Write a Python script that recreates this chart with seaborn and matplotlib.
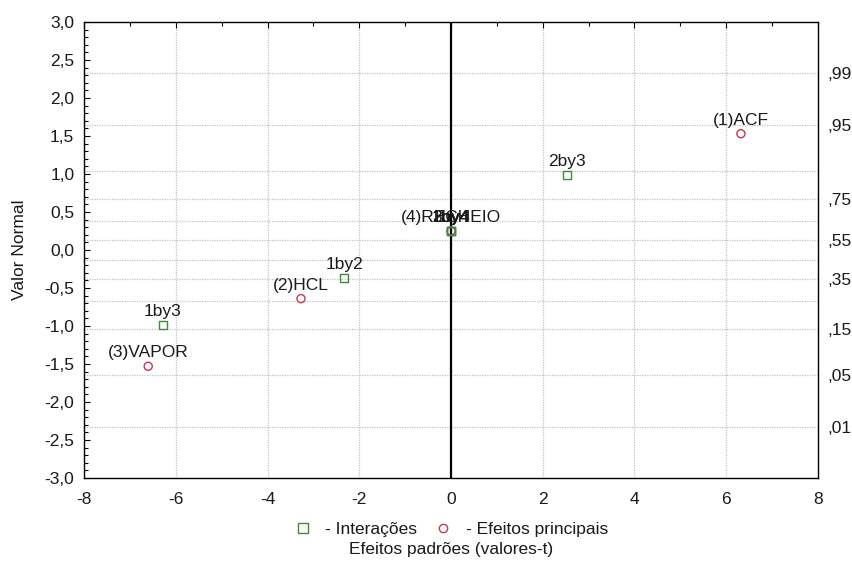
import matplotlib
matplotlib.use("Agg")
import matplotlib.pyplot as plt
from matplotlib.lines import Line2D
from matplotlib.ticker import MultipleLocator
from statistics import NormalDist
import pandas as pd
import seaborn as sns

# Effects: standardized t-values and their normal scores
labels = ["(1)ACF", "(2)HCL", "(3)VAPOR", "(4)RECHEIO",
          "1by2", "1by3", "1by4", "2by3", "2by4", "3by4"]
t_values = [6.32, -3.27, -6.60, 0.0, -2.33, -6.28, 0.0, 2.52, 0.0, 0.0]
normal_values = [1.53, -0.64, -1.53, 0.25, -0.37, -0.99, 0.25, 0.99, 0.25, 0.25]
kinds = ["Efeitos principais", "Efeitos principais", "Efeitos principais",
         "Efeitos principais", "Interações", "Interações", "Interações",
         "Interações", "Interações", "Interações"]

# Axis ticks
x_ticks = [-8, -6, -4, -2, 0, 2, 4, 6, 8]
x_tick_labels = ["-8", "-6", "-4", "-2", "0", "2", "4", "6", "8"]
y_ticks = [-3.0, -2.5, -2.0, -1.5, -1.0, -0.5, 0.0, 0.5, 1.0, 1.5, 2.0, 2.5, 3.0]
y_tick_labels = ["-3,0", "-2,5", "-2,0", "-1,5", "-1,0", "-0,5", "0,0",
                 "0,5", "1,0", "1,5", "2,0", "2,5", "3,0"]

# Cumulative probability scale (right axis)
grid_probs = [0.01, 0.05, 0.15, 0.25, 0.35, 0.45, 0.55, 0.65, 0.75, 0.85, 0.95, 0.99]
label_probs = [0.01, 0.05, 0.15, 0.35, 0.55, 0.75, 0.95, 0.99]
prob_labels = [",01", ",05", ",15", ",35", ",55", ",75", ",95", ",99"]

df = pd.DataFrame({"label": labels, "t": t_values, "z": normal_values, "tipo": kinds})

sns.set_style("white")
plt.rcParams["font.family"] = ["Liberation Sans", "DejaVu Sans"]
plt.rcParams["font.size"] = 12.5

green = "#3c8c3c"
red = "#c8374d"
grid_col = "#c2c2c2"
styles = {"Interações": ("s", green), "Efeitos principais": ("o", red)}

fig = plt.figure(figsize=(8.53, 5.61), dpi=100)
ax = fig.add_axes([84 / 853, 1 - 478 / 561, 734 / 853, 456 / 561])

ax.set_xlim(-8, 8)
ax.set_ylim(-3, 3)

# dotted grid: x at major ticks, y at probability levels
nd = NormalDist()
for p in grid_probs:
    ax.axhline(nd.inv_cdf(p), color=grid_col, ls=(0, (1, 1)), lw=0.9, zorder=0.5)
for xv in x_ticks[1:-1]:
    ax.axvline(xv, color=grid_col, ls=(0, (1, 1)), lw=0.9, zorder=0.5)
ax.axvline(0, color="black", lw=1.6, zorder=1.5)

for kind in ["Efeitos principais", "Interações"]:
    marker, col = styles[kind]
    sub = df[df["tipo"] == kind]
    sns.scatterplot(data=sub, x="t", y="z", marker=marker, s=34,
                    facecolors="none", edgecolor=col, linewidth=1.0,
                    ax=ax, zorder=3, legend=False)

for _, row in df.iterrows():
    ax.annotate(row["label"], (row["t"], row["z"]), xytext=(0, 6.5),
                textcoords="offset points", ha="center", va="baseline",
                fontsize=12.5, color="#1a1a1a", zorder=4)

ax.set_xticks(x_ticks, x_tick_labels)
ax.set_yticks(y_ticks, y_tick_labels)
ax.xaxis.set_minor_locator(MultipleLocator(1))
ax.yaxis.set_minor_locator(MultipleLocator(0.1))
ax.tick_params(which="both", direction="in", top=True, right=True,
               color="black", width=0.8, labelcolor="#1a1a1a")
ax.tick_params(which="major", length=4)
ax.tick_params(which="minor", length=3)
ax.tick_params(axis="x", pad=10)
ax.tick_params(axis="y", pad=7)
for sp in ax.spines.values():
    sp.set_color("black")
    sp.set_linewidth(1.0)

ax.set_xlabel("Efeitos padrões (valores-t)", fontsize=12.5, color="#1a1a1a")
ax.set_ylabel("Valor Normal", fontsize=12.5, color="#1a1a1a")
ax.xaxis.set_label_coords(0.5, -0.14)
ax.yaxis.set_label_coords(-0.078, 0.5)

# right-hand probability labels
ax2 = ax.twinx()
ax2.set_ylim(ax.get_ylim())
ax2.set_yticks([nd.inv_cdf(p) for p in label_probs], prob_labels)
ax2.tick_params(axis="y", length=0, pad=7, labelcolor="#1a1a1a")
for sp in ax2.spines.values():
    sp.set_visible(False)

handles = [
    Line2D([], [], ls="none", marker="s", markersize=6.5, markerfacecolor="none",
           markeredgecolor=green, markeredgewidth=1.0),
    Line2D([], [], ls="none", marker="o", markersize=6, markerfacecolor="none",
           markeredgecolor=red, markeredgewidth=1.0),
]
ax.legend(handles, ["- Interações", "- Efeitos principais"], ncol=2,
          loc="center", bbox_to_anchor=(0.5, -0.113), frameon=False,
          handlelength=1.0, handletextpad=0.8, columnspacing=1.0,
          fontsize=12.5, borderaxespad=0, labelcolor="#1a1a1a")

fig.savefig("out.png", dpi=100)
